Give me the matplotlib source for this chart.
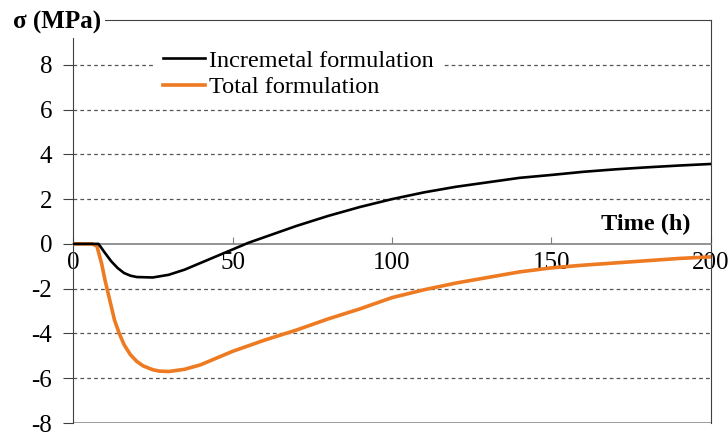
import numpy as np
import matplotlib
matplotlib.use("Agg")
import matplotlib.pyplot as plt

plt.rcParams['font.family'] = ['Liberation Serif', 'DejaVu Serif']
plt.rcParams['axes.unicode_minus'] = False

# time (h) and stress (MPa)
t_inc = [0, 8, 10, 12, 14, 16, 18, 20, 25, 30, 35, 40, 45, 50, 55, 60, 70, 80, 90,
         100, 110, 120, 130, 140, 150, 160, 170, 180, 190, 200]
s_inc = [0, 0, -0.4, -0.78, -1.08, -1.3, -1.42, -1.48, -1.5, -1.38, -1.15, -0.85,
         -0.55, -0.25, 0.05, 0.3, 0.8, 1.25, 1.65, 2.0, 2.3, 2.55, 2.75, 2.95,
         3.08, 3.22, 3.33, 3.42, 3.5, 3.57]

t_tot = [0, 6, 7.5, 9, 10, 11.5, 13, 14.5, 16, 18, 20, 22, 25, 27, 30, 35, 40, 45,
         50, 55, 60, 70, 80, 90, 100, 110, 120, 130, 140, 150, 160, 170, 180,
         190, 200]
s_tot = [0, 0, -0.1, -0.9, -1.6, -2.5, -3.4, -4.0, -4.5, -4.95, -5.25, -5.45,
         -5.62, -5.68, -5.7, -5.6, -5.4, -5.1, -4.8, -4.55, -4.3, -3.85, -3.35,
         -2.9, -2.4, -2.05, -1.75, -1.5, -1.25, -1.07, -0.95, -0.85, -0.75,
         -0.65, -0.58]

xticks = [0, 50, 100, 150, 200]
yticks = [-8, -6, -4, -2, 0, 2, 4, 6, 8]
grid_y = [-6, -4, -2, 2, 4, 6, 8]

fig = plt.figure(figsize=(7.28, 4.32), dpi=100)
ax = fig.add_axes([0.1003, 0.0208, 0.8763, 0.9329])
ax.set_xlim(0, 200)
ax.set_ylim(-8, 10)

for g in grid_y:
    ax.axhline(g, color='#555555', lw=0.9, linestyle=(0, (3, 2.5)), zorder=1)
ax.axhline(-8, color='#8c8c8c', lw=1.2, zorder=2)

ax.plot(t_inc, s_inc, color='black', lw=1.9, label="Incremetal formulation", zorder=4)
ax.plot(t_tot, s_tot, color='#EE7A22', lw=2.6, label="Total formulation", zorder=3)

for side in ['top', 'right']:
    ax.spines[side].set_color('#404040')
ax.spines['left'].set_color('#404040')
ax.spines['bottom'].set_position(('data', 0))
ax.spines['bottom'].set_color('#808080')
ax.spines['bottom'].set_linewidth(1.2)

ax.set_xticks(xticks)
ax.set_yticks(yticks)
ax.tick_params(axis='x', direction='in', length=5, color='#808080', labelsize=18, pad=6)
ax.tick_params(axis='y', direction='out', length=7, color='#404040', labelsize=18, pad=8)

ax.text(193.5, 0.85, "Time (h)", ha='right', va='center', fontsize=17.5, fontweight='bold')
fig.text(0.018, 0.948, "σ (MPa)", ha='left', va='center', fontsize=18, fontweight='bold',
         bbox=dict(facecolor='white', edgecolor='none', pad=3))

leg = ax.legend(loc='upper left', bbox_to_anchor=(0.11, 0.975), fontsize=17.5,
                handlelength=1.75, handletextpad=0.15, labelspacing=0.2,
                borderpad=0.3, frameon=True, fancybox=False)
leg.get_frame().set_edgecolor('white')
leg.get_frame().set_facecolor('white')
leg.get_frame().set_alpha(1)

fig.savefig("out.png", dpi=100)
